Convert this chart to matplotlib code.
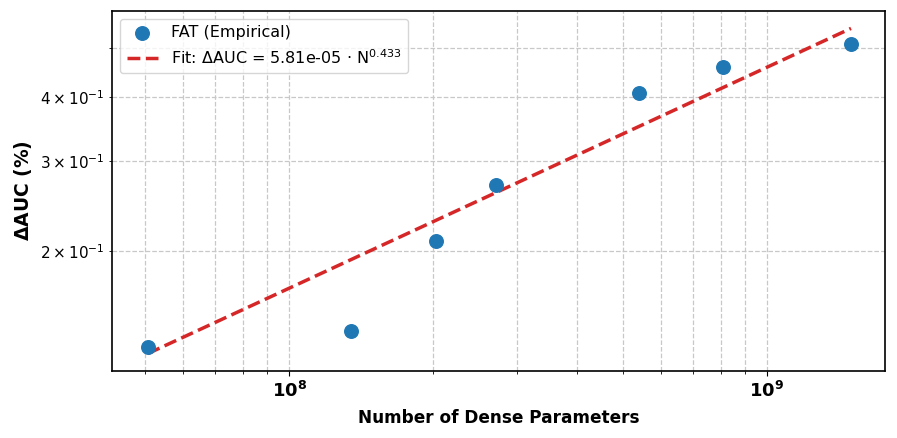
import numpy as np
import matplotlib
matplotlib.use("Agg")
import matplotlib.pyplot as plt

# dati
params = [5.06e7, 1.35e8, 2.03e8, 2.71e8, 5.40e8, 8.10e8, 1.50e9]
delta_auc = [0.1297, 0.1393, 0.209, 0.269, 0.409, 0.458, 0.508]

fit_a = 5.81e-05
fit_b = 0.433

fig, ax = plt.subplots(figsize=(8.97, 4.38), dpi=100)
fig.subplots_adjust(left=0.125, right=0.987, top=0.975, bottom=0.153)

ax.scatter(params, delta_auc, s=95, color='#1f77b4', zorder=3, label='FAT (Empirical)')

x_fit = np.geomspace(min(params), max(params), 50)
ax.plot(x_fit, fit_a * x_fit ** fit_b, '--', color='#d62728', linewidth=2.5, zorder=2,
        label=r'Fit: $\Delta$AUC = 5.81e-05 $\cdot$ N$^{0.433}$')

ax.set_xscale('log')
ax.set_yscale('log')
ax.set_xlim(4.26e7, 1.77e9)
ax.set_ylim(0.1164, 0.591)

ax.grid(True, which='both', linestyle='--', color='#c8c8c8', linewidth=0.9)
ax.set_xlabel('Number of Dense Parameters', fontsize=12.2, fontweight='bold', labelpad=6)
ax.set_ylabel(r'$\mathbf{\Delta}$AUC (%)', fontsize=13.5, fontweight='bold')

for lab in ax.get_xticklabels(which='both'):
    lab.set_fontweight('bold')
ax.tick_params(axis='x', which='major', labelsize=13)
ax.tick_params(axis='y', which='both', labelsize=11)
for sp in ax.spines.values():
    sp.set_linewidth(1.2)

ax.legend(loc='upper left', fontsize=11.5)

plt.savefig('out.png', dpi=100)
